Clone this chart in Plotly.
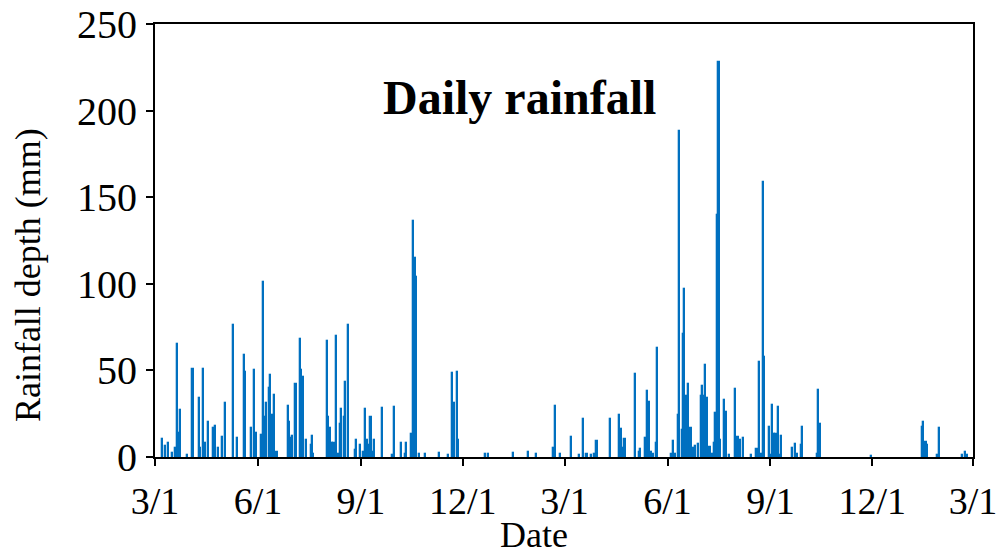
import pandas as pd
import plotly.graph_objects as go

# Daily rainfall (day offset from the first 3/1, mm)
start_date = "2015-03-01"
end_date = "2017-03-01"

day_offset = [
    7, 9, 12, 16, 18, 20, 21, 23, 29, 34, 40, 41, 43, 45, 48, 52, 54, 57, 60, 63,
    70, 74, 80, 81, 86, 89, 91, 95, 97, 99, 100, 102, 103, 105, 107, 109, 119, 120, 122, 123,
    126, 130, 131, 133, 135, 140, 141, 142, 154, 155, 157, 159, 160, 162, 164, 166, 167, 169, 170, 173,
    179, 180, 184, 186, 188, 190, 191, 193, 195, 196, 203, 212, 214, 220, 224, 225, 229, 231, 233, 234,
    236, 242, 254, 262, 266, 268, 270, 271, 295, 298, 320, 334, 341,
    356, 358, 362, 372, 379, 383, 386, 390, 393, 395, 407, 415, 417, 418, 420, 429, 433, 434, 438, 440,
    442, 444, 445, 448, 449, 462, 463, 465, 468, 469, 471, 472, 473, 475, 477, 479, 481, 482, 483, 486,
    488, 489, 490, 492, 494, 496, 498, 500, 501, 503, 504, 505, 509, 511, 513, 519, 521, 523, 526, 533,
    538, 540, 542, 544, 545, 549, 551, 552, 554, 555, 557, 559, 560, 570, 572, 574, 578, 579, 592, 593,
    595, 640, 686, 687, 689, 690, 699, 701, 722, 724, 726,
]

rain_mm = [
    10.3, 6.4, 8, 2.5, 5, 65, 13.6, 27, 1, 51, 34, 5, 51, 7.8, 20, 17, 18, 5, 11.5, 31,
    76, 11, 59, 49, 17, 50, 14, 12.5, 101, 23, 31, 40, 47.5, 24, 36, 3, 29.5, 20, 11, 12,
    42, 68, 50, 46, 10, 7, 12, 2, 67, 23, 16.5, 8, 8, 70, 2, 19, 28, 23, 43.5, 76,
    4, 10, 7, 3, 28, 10, 7, 23, 3, 10, 28.5, 1, 29, 8, 1.5, 8, 13, 136, 115, 104,
    1.5, 2, 2.5, 1, 48.6, 31, 49, 10, 2, 1.5, 2.5, 3, 2,
    5, 29.7, 1.5, 11.8, 1, 22, 1.5, 1, 1.5, 9, 22, 24, 16, 5, 10.6, 47.8, 3, 4.5, 11, 38,
    32, 3, 2, 8, 63, 1.5, 9, 1.5, 24, 188, 15.6, 71, 97, 35, 42, 16.5, 5, 2, 6.5, 7.5,
    35, 41, 35, 53, 34, 6, 2, 8, 25.5, 140, 228, 10, 33, 26, 1, 39, 11.5, 10, 11, 1,
    4.5, 54.6, 2, 159, 58, 17.4, 1, 30, 13.5, 13.5, 29, 1, 12, 5, 7.7, 2, 7, 17.5, 1.5, 38.8,
    19, 0.5, 17.4, 20.4, 8.5, 7, 1, 17, 1, 3, 1,
]

tick_dates = ["2015-03-01", "2015-06-01", "2015-09-01", "2015-12-01", "2016-03-01",
              "2016-06-01", "2016-09-01", "2016-12-01", "2017-03-01"]
tick_labels = ["3/1", "6/1", "9/1", "12/1", "3/1", "6/1", "9/1", "12/1", "3/1"]
y_ticks = [0, 50, 100, 150, 200, 250]

dates = pd.to_datetime(start_date) + pd.to_timedelta(day_offset, unit="D")

BLUE = "#0070C0"
FONT = "Liberation Serif"

fig = go.Figure()
fig.add_trace(go.Bar(
    x=dates, y=rain_mm,
    width=86400000,
    marker=dict(color=BLUE, line=dict(color=BLUE, width=1.3)),
    showlegend=False,
))

# page body has an 8px margin, so the figure is 8px smaller than the window
fig.update_layout(
    width=997, height=547,
    margin=dict(l=147, r=32, t=16, b=98),
    paper_bgcolor="white", plot_bgcolor="white",
    font=dict(family=FONT, size=36, color="black"),
    bargap=0,
    annotations=[
        dict(text="<b>Daily rainfall</b>", x=0.445, y=0.831, xref="paper", yref="paper",
             xanchor="center", yanchor="middle", showarrow=False,
             font=dict(family=FONT, size=48, color="black")),
        dict(text="Date", x=0.4633, y=-0.180, xref="paper", yref="paper",
             xanchor="center", yanchor="middle", showarrow=False,
             font=dict(family=FONT, size=36, color="black")),
        dict(text="Rainfall depth (mm)", x=-0.1553, y=0.420, xref="paper", yref="paper",
             xanchor="center", yanchor="middle", textangle=-90, showarrow=False,
             font=dict(family=FONT, size=36, color="black")),
    ],
)

fig.update_xaxes(
    type="date", range=[start_date, end_date],
    tickvals=tick_dates, ticktext=tick_labels,
    tickfont=dict(size=38),
    ticks="outside", ticklen=7, tickwidth=2, tickcolor="black",
    ticklabelstandoff=2, ticklabeloverflow="allow",
    showline=True, linecolor="black", linewidth=2, mirror=True,
    showgrid=False, zeroline=False,
    automargin=False,
)
fig.update_yaxes(
    range=[0, 250], tickvals=y_ticks,
    tickfont=dict(size=40),
    ticks="outside", ticklen=7, tickwidth=2, tickcolor="black",
    ticklabelstandoff=1, ticklabeloverflow="allow",
    showline=True, linecolor="black", linewidth=2, mirror=True,
    showgrid=False, zeroline=False,
    automargin=False,
)

fig.write_html("out.html")
